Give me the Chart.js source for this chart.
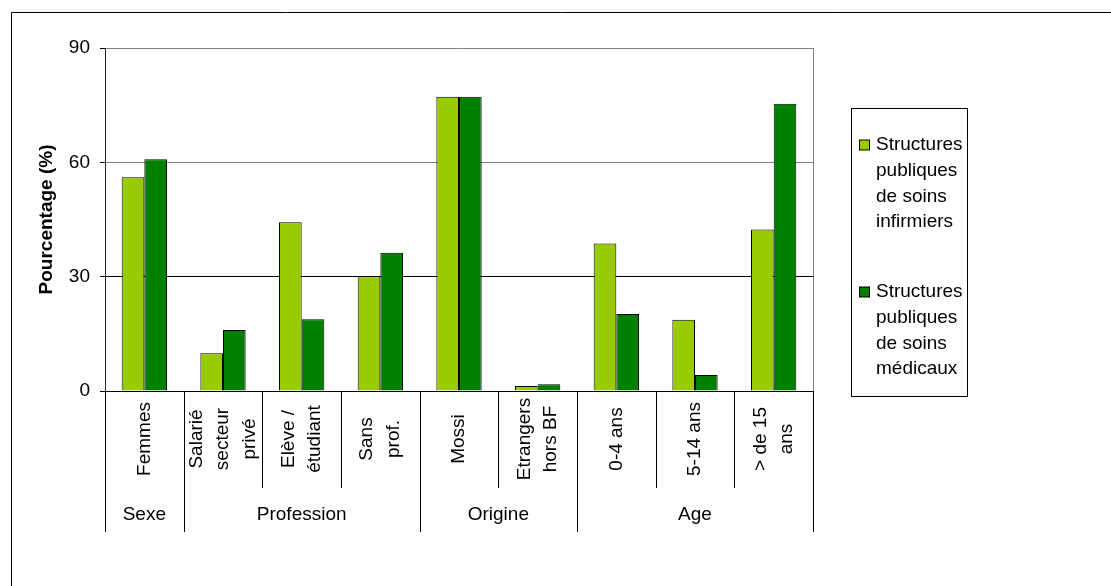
<!DOCTYPE html>
<html>
<head>
<meta charset="utf-8">
<script src="https://cdn.jsdelivr.net/npm/chart.js@4"></script>
<style>
  body { margin: 0; background: #fff; }
  canvas { display: block; }
</style>
</head>
<body>
<canvas id="chart" width="1111" height="586"></canvas>
<script>
// categories (multi-line labels, as in the original)
const categories = [
    ['Femmes'],
    ['Salarié', 'secteur', 'privé'],
    ['Elève /', 'étudiant'],
    ['Sans', 'prof.'],
    ['Mossi'],
    ['Etrangers', 'hors BF'],
    ['0-4 ans'],
    ['5-14 ans'],
    ['> de 15', 'ans']
];

// groups under the categories
const groupLabels = ['Sexe', 'Profession', 'Origine', 'Age'];
const groupSizes = [1, 3, 2, 3];

// series values (%)
const soinsInfirmiers = [56.1, 9.9, 44.3, 30.1, 77.2, 1.3, 38.7, 18.7, 42.4];
const soinsMedicaux = [60.8, 16.0, 18.8, 36.3, 77.2, 1.8, 20.2, 4.2, 75.4];

const yTicks = [0, 30, 60, 90];

const FONT = "'Liberation Sans', Arial, sans-serif";

// Draws the background, frame, category labels, separators and legend
const excelLook = {
    id: 'excelLook',
    beforeDraw(chart) {
        const ctx = chart.ctx;
        ctx.save();
        ctx.fillStyle = '#fff';
        ctx.fillRect(0, 0, chart.width, chart.height);
        // outer frame (only top and left are visible)
        ctx.strokeStyle = '#000';
        ctx.lineWidth = 1;
        ctx.beginPath();
        ctx.moveTo(11.5, chart.height);
        ctx.lineTo(11.5, 12.5);
        ctx.lineTo(chart.width, 12.5);
        ctx.stroke();
        ctx.restore();
    },
    afterDatasetsDraw(chart) {
        const ctx = chart.ctx;
        const area = chart.chartArea;
        ctx.save();
        // right side of the plot area
        ctx.strokeStyle = '#808080';
        ctx.lineWidth = 1;
        ctx.beginPath();
        ctx.moveTo(Math.round(area.right) + 0.5, area.top);
        ctx.lineTo(Math.round(area.right) + 0.5, area.bottom);
        ctx.stroke();
        ctx.restore();
    },
    afterDraw(chart) {
        const ctx = chart.ctx;
        const x = chart.scales.x;
        const bottom = chart.chartArea.bottom;
        ctx.save();

        // separators between categories
        const groupEdges = [-0.5];
        groupSizes.reduce(function(acc, n) {
            groupEdges.push(acc + n - 0.5);
            return acc + n;
        }, 0);
        ctx.strokeStyle = '#000';
        ctx.lineWidth = 1;
        for (let i = 0; i <= categories.length; i++) {
            const v = i - 0.5;
            const px = Math.round(x.getPixelForValue(v)) + 0.5;
            const isGroup = groupEdges.indexOf(v) !== -1;
            ctx.beginPath();
            ctx.moveTo(px, bottom);
            ctx.lineTo(px, isGroup ? 532 : 488);
            ctx.stroke();
        }

        // category labels, rotated
        ctx.fillStyle = '#000';
        ctx.font = '19px ' + FONT;
        ctx.textAlign = 'center';
        ctx.textBaseline = 'middle';
        categories.forEach(function(lines, i) {
            const px = x.getPixelForValue(i);
            ctx.save();
            ctx.translate(px, 439);
            ctx.rotate(-Math.PI / 2);
            lines.forEach(function(line, j) {
                const off = (j - (lines.length - 1) / 2) * 26.7;
                ctx.fillText(line, 0, off);
            });
            ctx.restore();
        });

        // group labels
        for (let g = 0; g < groupLabels.length; g++) {
            const mid = (x.getPixelForValue(groupEdges[g]) + x.getPixelForValue(groupEdges[g + 1])) / 2;
            ctx.fillText(groupLabels[g], mid, 515);
        }

        // legend
        const box = { left: 851.5, top: 108.5, width: 116, height: 288 };
        ctx.strokeStyle = '#000';
        ctx.strokeRect(box.left, box.top, box.width, box.height);
        ctx.textAlign = 'left';
        const itemTops = [145, 292];
        chart.data.datasets.forEach(function(ds, k) {
            const y0 = itemTops[k];
            ctx.fillStyle = ds.backgroundColor;
            ctx.fillRect(859.5, y0 - 5, 10, 10);
            ctx.strokeStyle = '#000';
            ctx.strokeRect(859.5, y0 - 5, 10, 10);
            // wrap label into the box
            const words = ds.label.split(' ');
            const lines = [];
            let cur = '';
            words.forEach(function(w) {
                const test = cur ? cur + ' ' + w : w;
                if (cur && ctx.measureText(test).width > 90) {
                    lines.push(cur);
                    cur = w;
                } else {
                    cur = test;
                }
            });
            lines.push(cur);
            ctx.fillStyle = '#000';
            lines.forEach(function(line, j) {
                ctx.fillText(line, 876, y0 + j * 25.7);
            });
        });
        ctx.restore();
    }
};

new Chart(document.getElementById('chart'), {
    type: 'bar',
    data: {
        labels: categories,
        datasets: [{
            label: 'Structures publiques de soins infirmiers',
            data: soinsInfirmiers,
            backgroundColor: '#99CC00',
            borderColor: '#000',
            borderWidth: 1
        }, {
            label: 'Structures publiques de soins médicaux',
            data: soinsMedicaux,
            backgroundColor: '#008000',
            borderColor: '#000',
            borderWidth: 1
        }]
    },
    options: {
        responsive: false,
        animation: false,
        layout: {
            padding: { left: 11, top: 48, right: 298, bottom: 45 }
        },
        datasets: {
            bar: { categoryPercentage: 0.576, barPercentage: 1 }
        },
        plugins: {
            legend: { display: false },
            tooltip: { enabled: false }
        },
        scales: {
            x: {
                grid: { display: false },
                border: { color: '#000' },
                ticks: { display: false },
                afterFit: function(scale) { scale.height = 150; }
            },
            y: {
                min: 0,
                max: 90,
                afterBuildTicks: function(scale) {
                    scale.ticks = yTicks.map(function(v) { return { value: v }; });
                },
                grid: {
                    color: function(c) { return c.tick && c.tick.value === 30 ? '#000' : '#808080'; },
                    tickColor: '#000',
                    tickLength: 5
                },
                border: { color: '#222' },
                ticks: {
                    color: '#000',
                    padding: 10,
                    font: { family: FONT, size: 19 }
                },
                title: {
                    display: true,
                    text: 'Pourcentage (%)',
                    color: '#000',
                    padding: { top: 24, bottom: 0 },
                    font: { family: FONT, size: 19, weight: 'bold' }
                },
                afterFit: function(scale) { scale.width = 94; }
            }
        }
    },
    plugins: [excelLook]
});
</script>
</body>
</html>
